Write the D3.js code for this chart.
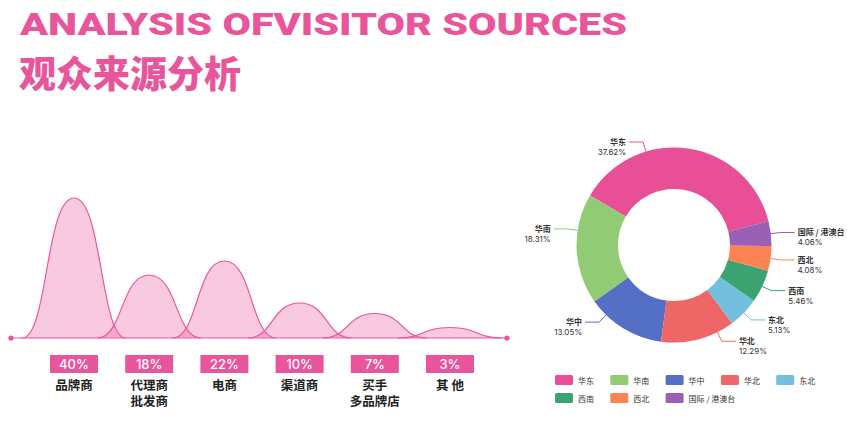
<!DOCTYPE html>
<html>
<head>
<meta charset="utf-8">
<script src="https://cdn.jsdelivr.net/npm/d3@7"></script>
<style>
  html, body { margin: 0; padding: 0; background: #fff; }
  svg { display: block; }
</style>
</head>
<body>
<div id="chart"></div>
<script>
// visitor sources — humps on the left, region donut on the right

const W = 847, H = 425;
const pink = "#e8559b";

// left chart data
const channels = ["品牌商", "代理商\n批发商", "电商", "渠道商", "买手\n多品牌店", "其 他"];
const channelShare = [40, 18, 22, 10, 7, 3];

// donut data (legend order)
const regions = ["华东", "华南", "华中", "华北", "东北", "西南", "西北", "国际 / 港澳台"];
const regionShare = [37.62, 18.31, 13.05, 12.29, 5.13, 5.46, 4.08, 4.06];
const regionColors = ["#e84f96", "#91cc75", "#5470c6", "#ee6666", "#73c0de", "#3ba272", "#fc8452", "#9a60b4"];

// label leader nudges (deg) so labels sit like the original layout
const labelNudge = { "华东": -25, "华南": 11, "华中": 13, "华北": -12 };

const svg = d3.select("#chart").append("svg")
  .attr("width", W)
  .attr("height", H);

// Titles
svg.append("text")
  .attr("x", 20).attr("y", 35)
  .attr("fill", pink)
  .attr("font-family", "Roboto, Inter, 'DejaVu Sans', sans-serif")
  .attr("font-weight", 900)
  .attr("font-size", 31)
  .attr("textLength", 607)
  .attr("lengthAdjust", "spacingAndGlyphs")
  .text("ANALYSIS OFVISITOR SOURCES");

svg.append("text")
  .attr("x", 19).attr("y", 88)
  .attr("fill", pink)
  .attr("font-family", "'Noto Sans CJK SC', sans-serif")
  .attr("font-weight", 900)
  .attr("font-size", 37)
  .text("观众来源分析");

// ---- left: overlapping humps ----
const baseY = 338;
const x = d3.scalePoint().domain(channels).range([74, 450]);
const y = d3.scaleLinear().domain([0, 40]).range([baseY, 198]);
const halfW = 52;

const g = svg.append("g");

g.append("line")
  .attr("x1", 11).attr("x2", 507)
  .attr("y1", baseY).attr("y2", baseY)
  .attr("stroke", pink).attr("stroke-width", 1.2);

g.selectAll("circle.end")
  .data([11, 507])
  .enter().append("circle")
  .attr("cx", d => d).attr("cy", baseY).attr("r", 2.6)
  .attr("fill", pink);

// bell-ish hump: soft foot, round top
function hump(cx, top) {
  const x0 = cx - halfW, x1 = cx + halfW;
  const p = d3.path();
  p.moveTo(x0, baseY);
  p.bezierCurveTo(x0 + halfW * 0.5, baseY, cx - halfW * 0.55, top, cx, top);
  p.bezierCurveTo(cx + halfW * 0.55, top, x1 - halfW * 0.5, baseY, x1, baseY);
  return p.toString();
}

g.selectAll("path.hump")
  .data(channels)
  .enter().append("path")
  .attr("class", "hump")
  .attr("d", (d, i) => hump(x(d), y(channelShare[i])))
  .attr("fill", "#ee6aa7")
  .attr("fill-opacity", 0.36)
  .attr("stroke", pink)
  .attr("stroke-width", 1.2);

// percent boxes
const boxes = g.selectAll("g.box")
  .data(channels)
  .enter().append("g")
  .attr("transform", d => `translate(${x(d)},0)`);

boxes.append("rect")
  .attr("x", -24).attr("y", 355)
  .attr("width", 48).attr("height", 18)
  .attr("fill", pink);

boxes.append("text")
  .attr("y", 364)
  .attr("text-anchor", "middle")
  .attr("dominant-baseline", "central")
  .attr("fill", "#fff")
  .attr("font-family", "Inter, Roboto, sans-serif")
  .attr("font-weight", 500)
  .attr("font-size", 13)
  .text((d, i) => channelShare[i] + "%");

boxes.append("text")
  .attr("text-anchor", "middle")
  .attr("fill", "#222")
  .attr("font-family", "'Noto Sans CJK SC', sans-serif")
  .attr("font-weight", 700)
  .attr("font-size", 12.5)
  .selectAll("tspan")
  .data(d => d.split("\n"))
  .enter().append("tspan")
  .attr("x", 0)
  .attr("y", (d, i) => 390 + i * 15.5)
  .text(d => d);

// ---- right: donut ----
const cx = 674, cy = 245, rOut = 97.5, rIn = 56;
const start = (90 - 14) * Math.PI / 180;

const pie = d3.pie()
  .sort(null)
  .value(d => d.v)
  .startAngle(start)
  .endAngle(start - 2 * Math.PI);

const arcs = pie(regions.map((name, i) => ({ name, v: regionShare[i], c: regionColors[i] })));
const arc = d3.arc().innerRadius(rIn).outerRadius(rOut);

const donut = svg.append("g").attr("transform", `translate(${cx},${cy})`);

donut.selectAll("path")
  .data(arcs)
  .enter().append("path")
  .attr("d", arc)
  .attr("fill", d => d.data.c);

// leader lines + labels
arcs.forEach(d => {
  const a = (d.startAngle + d.endAngle) / 2 + (labelNudge[d.data.name] || 0) * Math.PI / 180;
  const sx = Math.sin(a), sy = -Math.cos(a);
  const side = sx >= 0 ? 1 : -1;
  const p0 = [sx * rOut, sy * rOut];
  const p1 = [sx * (rOut + 10), sy * (rOut + 10)];
  const p2 = [p1[0] + side * 14, p1[1]];

  donut.append("polyline")
    .attr("points", [p0, p1, p2].map(p => p.join(",")).join(" "))
    .attr("fill", "none")
    .attr("stroke", d.data.c)
    .attr("stroke-width", 1);

  const t = donut.append("text")
    .attr("text-anchor", side > 0 ? "start" : "end")
    .attr("fill", "#333")
    .attr("font-family", "'Noto Sans CJK SC', sans-serif")
    .attr("font-size", 8);
  t.append("tspan")
    .attr("x", p2[0] + side * 3).attr("y", p2[1] + 3)
    .attr("font-weight", 700)
    .text(d.data.name);
  t.append("tspan")
    .attr("x", p2[0] + side * 3).attr("y", p2[1] + 13)
    .attr("font-family", "Inter, Roboto, sans-serif")
    .text(d.data.v.toFixed(2) + "%");
});

// legend
const legend = svg.append("g");
const items = legend.selectAll("g")
  .data(regions)
  .enter().append("g")
  .attr("transform", (d, i) => `translate(${555 + (i % 5) * 55.3},${375 + Math.floor(i / 5) * 18})`);

items.append("rect")
  .attr("width", 18).attr("height", 10).attr("rx", 1.5)
  .attr("fill", (d, i) => regionColors[i]);

items.append("text")
  .attr("x", 23).attr("y", 5)
  .attr("dominant-baseline", "central")
  .attr("fill", "#333")
  .attr("font-family", "'Noto Sans CJK SC', sans-serif")
  .attr("font-size", 8)
  .text(d => d);
</script>
</body>
</html>
